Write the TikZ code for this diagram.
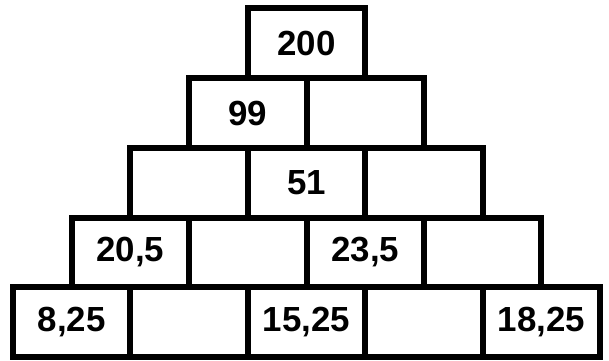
\documentclass[tikz,border=0pt]{standalone}
\usepackage{fontspec}
\setmainfont{Liberation Sans}
\usepackage{tikz}
\usetikzlibrary{positioning}
\tikzset{
  cell/.style={draw=black, line width=6bp, fill=white, outer sep=0pt, inner sep=0pt, minimum width=117.4bp, minimum height=69.7bp, font=\fontsize{35}{40}\selectfont\bfseries}
}

\begin{document}
\begin{tikzpicture}[x=1bp, y=1bp, node distance=0pt]
  \useasboundingbox (0,0) rectangle (609,360);
  % bottom row
  \node[cell] (base1) at (71.7,37.85) {8,25};
  \node[cell, right=of base1] (base2) {};
  \node[cell, right=of base2] (base3) {15,25};
  \node[cell, right=of base3] (base4) {};
  \node[cell, right=of base4] (base5) {18,25};
  % fourth row
  \node[cell, above=of base1.north east] (four1) {20,5};
  \node[cell, right=of four1] (four2) {};
  \node[cell, right=of four2] (four3) {23,5};
  \node[cell, right=of four3] (four4) {};
  % third row
  \node[cell, above=of four1.north east] (three1) {};
  \node[cell, right=of three1] (three2) {51};
  \node[cell, right=of three2] (three3) {};
  % second row
  \node[cell, above=of three1.north east] (two1) {99};
  \node[cell, right=of two1] (two2) {};
  % top
  \node[cell, above=of two1.north east] (top) {200};
\end{tikzpicture}
\end{document}
